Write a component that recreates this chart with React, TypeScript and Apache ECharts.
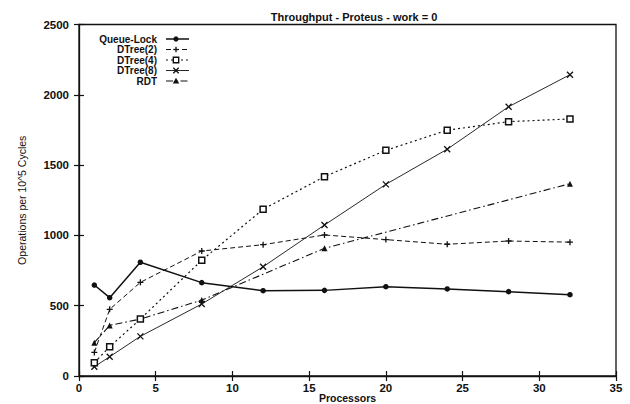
import React, { useEffect, useRef } from "react";
import * as echarts from "echarts";

const xProc = [1, 2, 4, 8, 12, 16, 20, 24, 28, 32];
const queueLock = [647, 557, 809, 664, 607, 609, 635, 619, 600, 578];
const dtree2 = [168, 474, 666, 889, 934, 1003, 970, 937, 960, 952];
const dtree4 = [95, 208, 405, 823, 1186, 1418, 1605, 1748, 1809, 1828];
const dtree8 = [66, 137, 282, 512, 777, 1074, 1363, 1613, 1915, 2143];
const rdtX = [1, 2, 4, 8, 16, 32];
const rdt = [237, 360, 405, 540, 908, 1368];

const seriesNames = ["Queue-Lock", "DTree(2)", "DTree(4)", "DTree(8)", "RDT"];
const titleText = "Throughput - Proteus - work = 0";
const xName = "Processors";
const yName = "Operations per 10^5 Cycles";

const FONT = "'Liberation Sans', Arial, sans-serif";
const INK = "#111";

const PLUS = "path://M5,0L5,10M0,5L10,5";
const CROSS = "path://M0,0L10,10M10,0L0,10";

const pairs = (xs: number[], ys: number[]) => xs.map((x, i) => [x, ys[i]]);

export default function App() {
  const ref = useRef<HTMLDivElement>(null);
  useEffect(() => {
    if (!ref.current) return;
    const chart = echarts.init(ref.current, null, { renderer: "svg" });

    const styles = [
      { dash: "solid" as any, width: 1.5, symbol: "circle", size: 5.5, item: { color: INK } },
      { dash: [5, 3], width: 1, symbol: PLUS, size: 6, item: { color: INK, borderColor: INK, borderWidth: 1.3 } },
      { dash: [2, 3], width: 1.2, symbol: "rect", size: 6, item: { color: "#fff", borderColor: INK, borderWidth: 1.5 } },
      { dash: "solid" as any, width: 0.9, symbol: CROSS, size: 6, item: { color: INK, borderColor: INK, borderWidth: 1.3 } },
      { dash: [7, 3, 1.5, 3], width: 1.1, symbol: "triangle", size: 6, item: { color: INK } },
    ];
    const datas = [
      pairs(xProc, queueLock),
      pairs(xProc, dtree2),
      pairs(xProc, dtree4),
      pairs(xProc, dtree8),
      pairs(rdtX, rdt),
    ];

    const series = datas.map((d, i) => ({
      name: seriesNames[i],
      type: "line",
      data: d,
      symbol: styles[i].symbol,
      symbolSize: styles[i].size,
      showSymbol: true,
      lineStyle: { color: INK, width: styles[i].width, type: styles[i].dash },
      itemStyle: styles[i].item,
      z: 3 + (i === 2 ? 2 : 0),
    }));

    const legendRows = [39, 49.5, 60, 70.5, 81];
    const textRight = 157;
    const lx1 = 166;
    const lx2 = 189;
    const mx = 176;
    const graphics: any[] = [];
    legendRows.forEach((y, i) => {
      graphics.push({
        type: "text",
        x: textRight,
        y,
        style: {
          text: seriesNames[i],
          align: "right",
          verticalAlign: "middle",
          font: `bold 10px ${FONT}`,
          fill: INK,
        },
      });
      graphics.push({
        type: "line",
        shape: { x1: lx1, y1: y, x2: lx2, y2: y },
        style: {
          stroke: INK,
          lineWidth: styles[i].width,
          lineDash: Array.isArray(styles[i].dash) ? styles[i].dash : null,
        },
      });
      const s = 2.7;
      if (i === 0) {
        graphics.push({ type: "circle", shape: { cx: mx, cy: y, r: 2.6 }, style: { fill: INK } });
      } else if (i === 1) {
        graphics.push({ type: "line", shape: { x1: mx - s, y1: y, x2: mx + s, y2: y }, style: { stroke: INK, lineWidth: 1.3 } });
        graphics.push({ type: "line", shape: { x1: mx, y1: y - s, x2: mx, y2: y + s }, style: { stroke: INK, lineWidth: 1.3 } });
      } else if (i === 2) {
        graphics.push({ type: "rect", shape: { x: mx - 2.7, y: y - 2.7, width: 5.4, height: 5.4 }, style: { fill: "#fff", stroke: INK, lineWidth: 1.4 } });
      } else if (i === 3) {
        graphics.push({ type: "line", shape: { x1: mx - s, y1: y - s, x2: mx + s, y2: y + s }, style: { stroke: INK, lineWidth: 1.3 } });
        graphics.push({ type: "line", shape: { x1: mx - s, y1: y + s, x2: mx + s, y2: y - s }, style: { stroke: INK, lineWidth: 1.3 } });
      } else {
        graphics.push({
          type: "polygon",
          shape: { points: [[mx, y - 3.2], [mx - 3.2, y + 2.4], [mx + 3.2, y + 2.4]] },
          style: { fill: INK },
        });
      }
    });

    const tickLabel = {
      color: INK,
      fontFamily: FONT,
      fontSize: 11.5,
      fontWeight: "bold" as const,
      formatter: (v: number) => String(v),
    };

    chart.setOption({
      animation: false,
      backgroundColor: "#fff",
      title: {
        text: titleText,
        left: 349,
        top: 6,
        textAlign: "center",
        textStyle: { color: INK, fontFamily: FONT, fontSize: 11, fontWeight: "bold" },
      },
      grid: {
        left: 79,
        right: 14,
        top: 24.5,
        bottom: 28,
        containLabel: false,
        outerBoundsMode: "none",
        show: true,
        borderColor: INK,
        borderWidth: 1.3,
        backgroundColor: "transparent",
      },
      xAxis: [
        {
          type: "value",
          min: 0,
          max: 35,
          interval: 5,
          name: xName,
          nameLocation: "middle",
          nameGap: 16,
          nameMoveOverlap: false,
          nameTextStyle: {
            color: INK,
            fontFamily: FONT,
            fontSize: 10.5,
            fontWeight: "bold",
            verticalAlign: "top",
          },
          axisLine: { show: true, lineStyle: { color: INK, width: 1.3 } },
          axisTick: { show: true, inside: true, length: 5, lineStyle: { color: INK, width: 1.2 } },
          axisLabel: { ...tickLabel, margin: 6 },
          splitLine: { show: false },
        },
        {
          type: "value",
          position: "top",
          min: 0,
          max: 35,
          interval: 5,
          axisLine: { show: false },
          axisTick: { show: true, inside: true, length: 5, lineStyle: { color: INK, width: 1.2 } },
          axisLabel: { show: false },
          splitLine: { show: false },
        },
      ],
      yAxis: [
        {
          type: "value",
          min: 0,
          max: 2500,
          interval: 500,
          name: yName,
          nameLocation: "middle",
          nameGap: 52,
          nameMoveOverlap: false,
          nameTextStyle: { color: "#111111", fontFamily: FONT, fontSize: 10.5, fontWeight: "normal" },
          axisLine: { show: true, lineStyle: { color: INK, width: 1.3 } },
          axisTick: { show: true, inside: true, length: 5, lineStyle: { color: INK, width: 1.2 } },
          axisLabel: { ...tickLabel, margin: 10 },
          splitLine: { show: false },
        },
        {
          type: "value",
          position: "right",
          min: 0,
          max: 2500,
          interval: 500,
          axisLine: { show: false },
          axisTick: { show: true, inside: true, length: 5, lineStyle: { color: INK, width: 1.2 } },
          axisLabel: { show: false },
          splitLine: { show: false },
        },
      ],
      series,
      graphic: graphics,
    });

    return () => chart.dispose();
  }, []);

  return (
    <div
      ref={ref}
      style={{ position: "fixed", left: 0, top: 0, width: 630, height: 404, background: "#fff" }}
    />
  );
}
